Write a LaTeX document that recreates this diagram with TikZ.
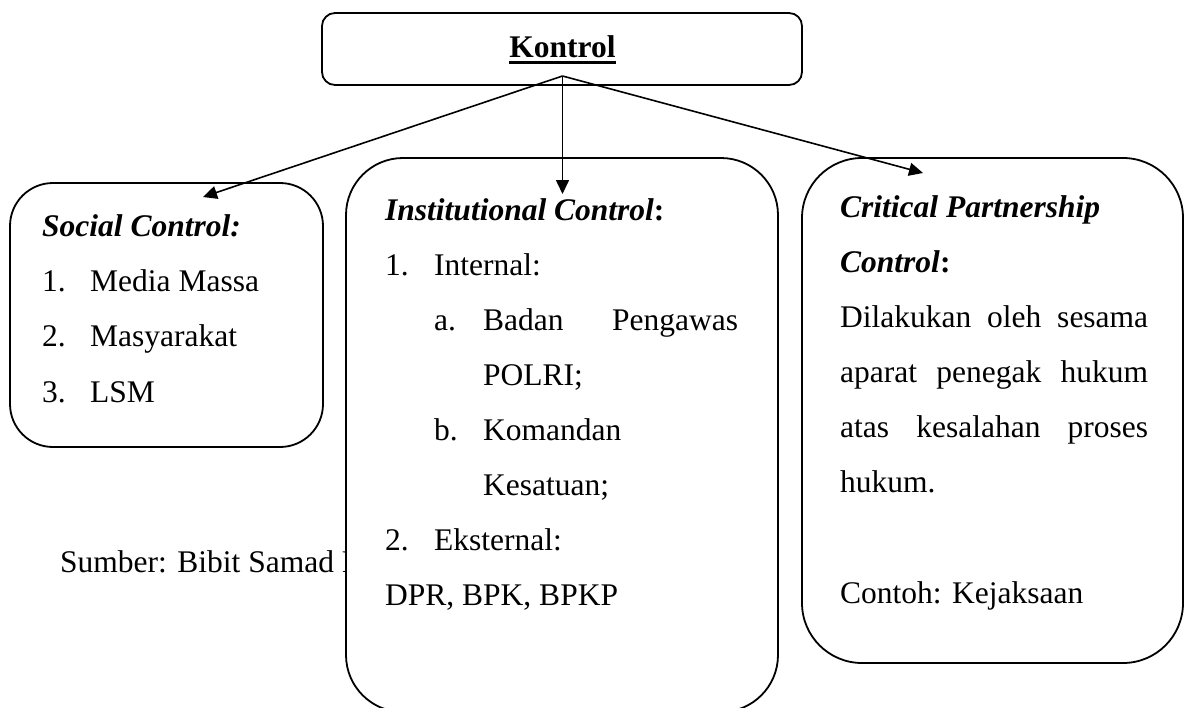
\documentclass[tikz,border=0pt]{standalone}
\usepackage{fontspec}
\setmainfont{Liberation Serif}
\usepackage{tikz}
\usetikzlibrary{arrows.meta,positioning}
\newcommand{\thickul}[1]{\setbox0\hbox{#1}\rlap{\rule[-6.5pt]{\wd0}{3pt}}\box0}

\begin{document}
\begin{tikzpicture}[x=1pt,y=-1pt,
  every node/.style={font=\fontsize{31.5}{53}\selectfont,inner sep=0pt},
  box/.style={draw,line width=1.8pt,minimum width=#1},
  ln/.style={anchor=base west},
  ar/.style={-{Triangle[length=14pt,width=13pt]},line width=1.6pt},
]
\useasboundingbox (0,0) rectangle (1185,707);
\fill[white] (0,0) rectangle (1185,707);

% top box
\node[box=480pt,rounded corners=13pt,minimum height=72pt] (kontrol) at (562,49) {};
\node[anchor=base] (ttl) at (562.5,57) {\thickul{\textbf{Kontrol}}};

% social control
\node[box=313pt,rounded corners=43pt,minimum height=264pt] (soc) at (166.5,315) {};
\node[ln] (soc0) at (42,236) {\textbf{\textit{Social Control:}}};
\node[ln] (soc1) at (42,291) {1.};
\node[ln] (soc1t) at (90,291) {Media Massa};
\node[ln] (soc2) at (42,346) {2.};
\node[ln] (soc2t) at (90,346) {Masyarakat};
\node[ln] (soc3) at (42,402) {3.};
\node[ln] (soc3t) at (90,402) {LSM};

% source line (partly under the middle box)
\node[ln] (sumber) at (60,572) {Sumber: Bibit Samad R};

% institutional control
\node[box=432pt,rounded corners=57pt,minimum height=554pt,fill=white] (inst) at (562,435) {};
\node[ln] (inst0) at (385,220) {\textbf{\textit{Institutional Control}:}};
\node[ln] (inst1) at (385,275) {1.};
\node[ln] (inst1t) at (434,275) {Internal:};
\node[ln] (insta) at (434,330) {a.};
\node[ln] (instat) at (483,330) {\makebox[255pt][s]{Badan Pengawas}};
\node[ln] (instat2) at (483,385) {POLRI;};
\node[ln] (instb) at (434,440) {b.};
\node[ln] (instbt) at (483,440) {Komandan};
\node[ln] (instbt2) at (483,495) {Kesatuan;};
\node[ln] (inst2) at (385,550) {2.};
\node[ln] (inst2t) at (434,550) {Eksternal:};
\node[ln] (inst3) at (385,605) {DPR, BPK, BPKP};

% critical partnership control
\node[box=381pt,rounded corners=60pt,minimum height=505pt] (crit) at (992.5,410.5) {};
\node[ln] (crit0) at (840,217) {\textbf{\textit{Critical Partnership}}};
\node[ln] (crit1) at (840,272) {\textbf{\textit{Control}:}};
\node[ln] (crit2) at (840,327) {\makebox[308pt][s]{Dilakukan oleh sesama}};
\node[ln] (crit3) at (840,382) {\makebox[308pt][s]{aparat penegak hukum}};
\node[ln] (crit4) at (840,437) {\makebox[308pt][s]{atas kesalahan proses}};
\node[ln] (crit5) at (840,492) {hukum.};
\node[ln] (crit6) at (840,603) {Contoh: Kejaksaan};

% arrows
\coordinate (hub) at (562.5,76);
\coordinate (tipS) at (203,197);
\coordinate (tipI) at (562.5,194);
\coordinate (tipC) at (923,173);
\draw[ar] (hub) -- (tipS);
\draw[ar] (hub) -- (tipI);
\draw[ar] (hub) -- (tipC);
\end{tikzpicture}
\end{document}
